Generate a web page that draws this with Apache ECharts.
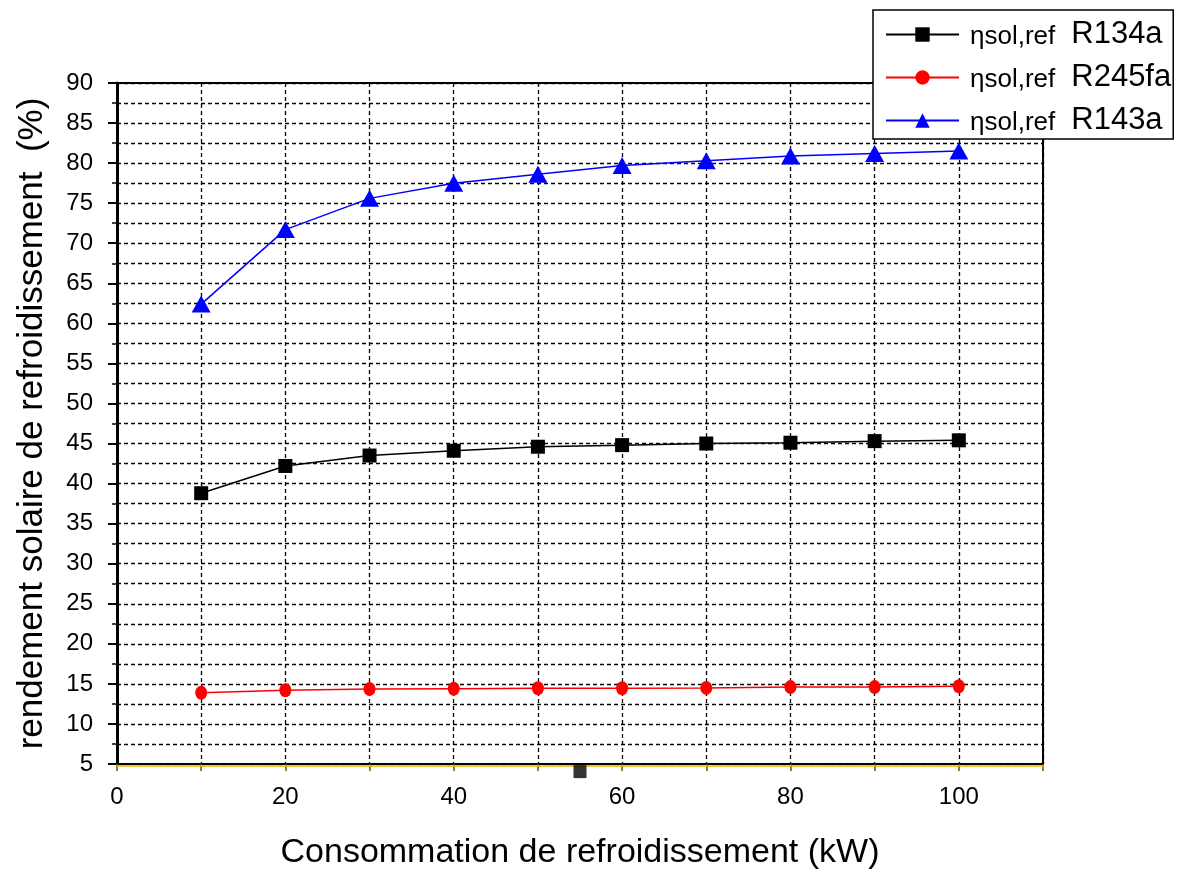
<!DOCTYPE html>
<html>
<head>
<meta charset="utf-8">
<script src="https://cdn.jsdelivr.net/npm/echarts@6/dist/echarts.min.js"></script>
<style>
html,body{margin:0;padding:0;background:#fff;}
#chart{width:1179px;height:869px;}
</style>
</head>
<body>
<div id="chart"></div>
<script>
const xValues = [10, 20, 30, 40, 50, 60, 70, 80, 90, 100];
const r134a = [38.8, 42.2, 43.5, 44.1, 44.6, 44.8, 45.0, 45.1, 45.3, 45.4];
const r245fa = [13.9, 14.2, 14.35, 14.4, 14.45, 14.45, 14.5, 14.6, 14.6, 14.7];
const r143a = [62.4, 71.7, 75.6, 77.5, 78.6, 79.7, 80.3, 80.9, 81.2, 81.5];
const strayPoint = [[55, 4.05]];
const seriesNames = ['R134a', 'R245fa', 'R143a'];
const seriesPrefix = 'ηsol,ref';

const pair = (ys) => xValues.map((x, i) => [x, ys[i]]);

const chart = echarts.init(document.getElementById('chart'));
const FONT = 'Liberation Sans, Arial, sans-serif';
const dash = { color: '#000', width: 1.3, type: [4, 3] };

chart.setOption({
  animation: false,
  backgroundColor: '#fff',
  grid: { left: 117, right: 136, top: 83, bottom: 105, show: true, borderColor: '#000', borderWidth: 2,
          backgroundColor: 'transparent', outerBoundsMode: 'none', containLabel: false },
  legend: {
    orient: 'vertical',
    left: 873, top: 10,
    padding: [9, 2, 3, 12],
    itemGap: 12,
    itemWidth: 73, itemHeight: 18,
    backgroundColor: '#fff',
    borderColor: '#000', borderWidth: 1.5,
    data: seriesNames,
    formatter: (name) => '{a|' + seriesPrefix + '}{b|' + name + '}',
    textStyle: {
      rich: {
        a: { fontFamily: FONT, fontSize: 26, color: '#000', verticalAlign: 'bottom', padding: [0, 16, 0, 6] },
        b: { fontFamily: FONT, fontSize: 31, color: '#000', verticalAlign: 'bottom' }
      }
    }
  },
  xAxis: [{
    type: 'value', min: 0, max: 110, interval: 10,
    name: 'Consommation de refroidissement (kW)',
    nameLocation: 'middle', nameGap: 72,
    nameTextStyle: { fontFamily: FONT, fontSize: 34, color: '#000' },
    axisLine: { onZero: false, lineStyle: { color: '#000', width: 2 } },
    axisTick: { show: true, length: 7, lineStyle: { color: '#6a5200', width: 1.5 } },
    axisLabel: {
      fontFamily: FONT, fontSize: 24, color: '#000', margin: 21,
      formatter: (v) => (v % 20 === 0 && v <= 100) ? String(v) : ''
    },
    splitLine: { show: true, lineStyle: dash }
  }, {
    type: 'value', min: 0, max: 110, position: 'bottom', offset: 2, z: 3,
    axisLine: { onZero: false, lineStyle: { color: '#f0b800', width: 1.5 } },
    axisTick: { show: false }, axisLabel: { show: false }, splitLine: { show: false }
  }],
  yAxis: {
    type: 'value', min: 5, max: 90, interval: 5,
    name: 'rendement solaire de refroidissement  (%)',
    nameLocation: 'middle', nameGap: 67,
    nameTextStyle: { fontFamily: FONT, fontSize: 35, color: '#000' },
    axisLine: { lineStyle: { color: '#000', width: 3 } },
    axisTick: { length: 9, lineStyle: { color: '#000', width: 2 } },
    minorTick: { show: true, splitNumber: 2, length: 5, lineStyle: { color: '#000', width: 1.5 } },
    axisLabel: { fontFamily: FONT, fontSize: 24, color: '#000', margin: 24 },
    splitLine: { show: true, lineStyle: dash },
    minorSplitLine: { show: true, lineStyle: dash }
  },
  series: [
    { name: 'R134a', type: 'line', data: pair(r134a), symbol: 'rect', symbolSize: 14,
      itemStyle: { color: '#000' }, lineStyle: { color: '#000', width: 1.5 }, z: 5 },
    { name: 'R245fa', type: 'line', data: pair(r245fa), symbol: 'circle', symbolSize: [12, 14],
      itemStyle: { color: '#ff0000' }, lineStyle: { color: '#ff0000', width: 1.5 }, z: 5 },
    { name: 'R143a', type: 'line', data: pair(r143a), symbol: 'triangle', symbolSize: [19, 17],
      itemStyle: { color: '#0000ff' }, lineStyle: { color: '#0000ff', width: 1.5 }, z: 5 },
    { name: 'stray', type: 'scatter', data: strayPoint, symbol: 'rect', symbolSize: 13, clip: false,
      itemStyle: { color: '#000' }, z: 6 }
  ]
});
</script>
</body>
</html>
